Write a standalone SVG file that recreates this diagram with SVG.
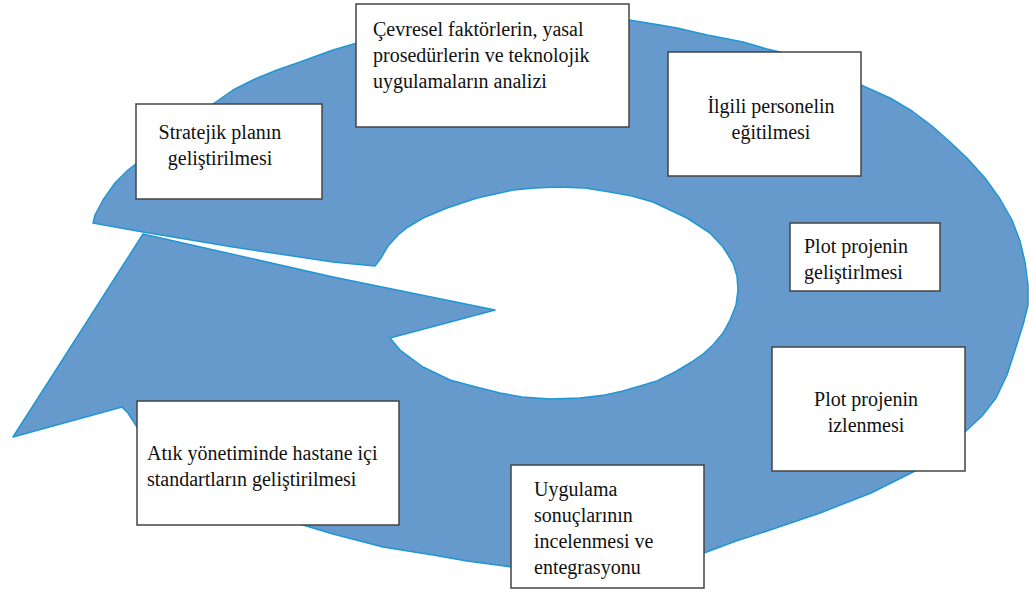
<svg xmlns="http://www.w3.org/2000/svg" width="1029" height="594" viewBox="0 0 1029 594">
  <style>
    .box { fill: #ffffff; stroke: #444444; stroke-width: 1.5; }
    .t { font-family: "Liberation Serif", "Times New Roman", serif; font-size: 20px; fill: #111111; }
    .c { text-anchor: middle; }
  </style>
  <rect width="1029" height="594" fill="#ffffff"/>
  <g id="circular-arrow">
    <path fill="#6699cc" stroke="#1f97d4" stroke-width="1.5" stroke-linejoin="round"
      d="M 93,223 L 95,215 L 103,200 L 115,183 L 128,170 L 137,163 L 170,125 L 213,104 L 233,90 L 255,79 L 277,70 L 300,62 L 333,50 L 357,43 L 450,25 L 560,18 L 629,20 L 660,25 L 677,28 L 707,35 L 723,38 L 743,42 L 767,49 L 780,52 L 830,68 L 861,85 L 890,98 L 912,111 L 932,126 L 950,142 L 967,158 L 985,178 L 1000,199 L 1012,220 L 1020,241 L 1025,262 L 1028,285 L 1028,305 L 1023,325 L 1016,347 L 1007,375 L 996,398 L 982,416 L 967,430 L 940,455 L 915,471 L 871,493 L 820,513 L 770,530 L 736,541 L 704,553 L 600,566 L 511,567 L 467,561 L 433,555 L 383,547 L 333,534 L 303,525 L 200,490 L 137,427 L 128,413 L 122,407 L 13,437 L 143,234 L 333,277 L 495,310 L 390,338 L 400,350 L 423,367 L 450,380 L 476,387 L 500,393 L 522,397 L 550,399 L 580,398 L 605,395 L 623,391 L 657,381 L 675,372 L 690,363 L 703,354 L 713,345 L 723,333 L 730,320 L 736,305 L 738,290 L 737,276 L 733,263 L 723,247 L 710,233 L 687,218 L 653,202 L 632,196 L 610,192 L 585,188 L 557,187 L 535,188 L 513,190 L 477,198 L 447,208 L 423,218 L 408,227 L 398,235 L 388,246 L 381,258 L 375,266 L 333,262 L 233,247 L 143,232 Z"/>
  </g>
  <g id="connectors"></g>
  <g id="node-stratejik">
    <rect class="box" x="136" y="104" width="186" height="95"/>
    <text class="t c" x="220" y="139">Stratejik planın</text>
    <text class="t c" x="220" y="165">geliştirilmesi</text>
  </g>
  <g id="node-cevresel">
    <rect class="box" x="356" y="4" width="273" height="123"/>
    <text class="t" x="373" y="36">Çevresel faktörlerin, yasal</text>
    <text class="t" x="373" y="62">prosedürlerin ve teknolojik</text>
    <text class="t" x="373" y="88">uygulamaların analizi</text>
  </g>
  <g id="node-ilgili">
    <rect class="box" x="668" y="52" width="193" height="124"/>
    <text class="t c" x="771" y="113">İlgili personelin</text>
    <text class="t c" x="771" y="139">eğitilmesi</text>
  </g>
  <g id="node-plot-gelistirme">
    <rect class="box" x="790" y="223" width="150" height="68"/>
    <text class="t" x="804" y="253">Plot projenin</text>
    <text class="t" x="804" y="279">geliştirlmesi</text>
  </g>
  <g id="node-plot-izleme">
    <rect class="box" x="772" y="347" width="193" height="124"/>
    <text class="t c" x="866" y="406">Plot projenin</text>
    <text class="t c" x="866" y="432">izlenmesi</text>
  </g>
  <g id="node-uygulama">
    <rect class="box" x="511" y="465" width="193" height="123"/>
    <text class="t" x="534" y="496">Uygulama</text>
    <text class="t" x="534" y="522">sonuçlarının</text>
    <text class="t" x="534" y="548">incelenmesi ve</text>
    <text class="t" x="534" y="574">entegrasyonu</text>
  </g>
  <g id="node-atik">
    <rect class="box" x="137" y="401" width="262" height="124"/>
    <text class="t" x="147" y="460">Atık yönetiminde hastane içi</text>
    <text class="t" x="147" y="486">standartların geliştirilmesi</text>
  </g>
</svg>
